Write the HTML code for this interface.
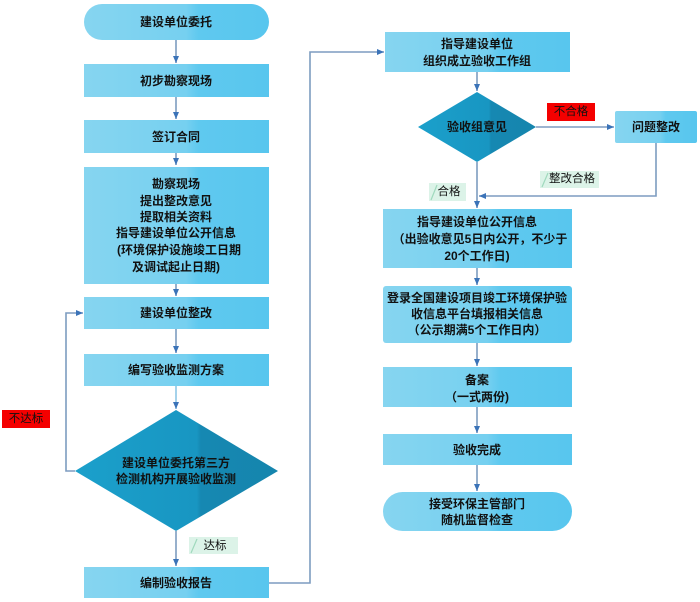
<!DOCTYPE html>
<html><head><meta charset="utf-8">
<style>
html,body{margin:0;padding:0;background:#fff;}
svg{display:block;}
text{font-family:"Liberation Sans","Noto Sans CJK SC",sans-serif;font-size:12px;font-weight:bold;fill:#111;}
.n{font-weight:normal;font-size:11.5px;}
</style></head><body>
<svg width="700" height="602" viewBox="0 0 700 602" xmlns="http://www.w3.org/2000/svg">
<defs>
<linearGradient id="bx" x1="0" y1="0" x2="1" y2="0">
<stop offset="0" stop-color="#86d5f0"/>
<stop offset="0.55" stop-color="#76d0f0"/>
<stop offset="0.62" stop-color="#5fc9ef"/>
<stop offset="1" stop-color="#58c6ee"/>
</linearGradient>
<linearGradient id="dm" x1="0" y1="0" x2="1" y2="0">
<stop offset="0" stop-color="#1ba0cb"/>
<stop offset="0.6" stop-color="#1896c2"/>
<stop offset="0.62" stop-color="#1688b2"/>
<stop offset="1" stop-color="#1585ad"/>
</linearGradient>
<marker id="ar" markerWidth="8" markerHeight="8" refX="7" refY="4" orient="auto" markerUnits="userSpaceOnUse">
<path d="M0,1 L7,4 L0,7 Z" fill="#3b73b8"/>
</marker>
</defs>

<!-- connectors left -->
<g stroke="#7d9cc0" stroke-width="1.6" fill="none" marker-end="url(#ar)">
<line x1="176" y1="40" x2="176" y2="63"/>
<line x1="176" y1="97" x2="176" y2="119"/>
<line x1="176" y1="153" x2="176" y2="165"/>
<line x1="176" y1="284" x2="176" y2="296"/>
<line x1="176" y1="329" x2="176" y2="353"/>
<line x1="176" y1="386" x2="176" y2="409" stroke="#8ec6e6"/>
<line x1="176" y1="531" x2="176" y2="566"/>
<polyline points="75,471 66,471 66,313 83,313"/>
<polyline points="269,583 310,583 310,52 384,52"/>
<!-- right -->
<line x1="477" y1="72" x2="477" y2="91"/>
<line x1="536" y1="127" x2="614" y2="127"/>
<line x1="477" y1="162" x2="477" y2="208"/>
<polyline points="656,143 656,196 479,196"/>
<line x1="477" y1="268" x2="477" y2="285"/>
<line x1="477" y1="343" x2="477" y2="366"/>
<line x1="477" y1="407" x2="477" y2="433"/>
<line x1="477" y1="465" x2="477" y2="491"/>
</g>

<!-- left boxes -->
<rect x="84" y="4" width="185" height="36" rx="18" fill="url(#bx)"/>
<rect x="84" y="64" width="185" height="33" fill="url(#bx)"/>
<rect x="84" y="120" width="185" height="33" fill="url(#bx)"/>
<rect x="84" y="167" width="185" height="117" fill="url(#bx)"/>
<rect x="84" y="297" width="185" height="32" fill="url(#bx)"/>
<rect x="84" y="354" width="185" height="32" fill="url(#bx)"/>
<polygon points="176,410 278,471 176,531 75,471" fill="url(#dm)"/>
<rect x="84" y="567" width="185" height="31" fill="url(#bx)"/>

<text x="176" y="22" text-anchor="middle" dominant-baseline="central">建设单位委托</text>
<text x="176" y="81" text-anchor="middle" dominant-baseline="central">初步勘察现场</text>
<text x="176" y="137" text-anchor="middle" dominant-baseline="central">签订合同</text>
<text x="176" y="184" text-anchor="middle" dominant-baseline="central">勘察现场</text>
<text x="176" y="201" text-anchor="middle" dominant-baseline="central">提出整改意见</text>
<text x="176" y="217" text-anchor="middle" dominant-baseline="central">提取相关资料</text>
<text x="176" y="233" text-anchor="middle" dominant-baseline="central">指导建设单位公开信息</text>
<text x="179" y="250" text-anchor="middle" dominant-baseline="central">(环境保护设施竣工日期</text>
<text x="176" y="267" text-anchor="middle" dominant-baseline="central">及调试起止日期)</text>
<text x="176" y="313" text-anchor="middle" dominant-baseline="central">建设单位整改</text>
<text x="176" y="370" text-anchor="middle" dominant-baseline="central">编写验收监测方案</text>
<text x="176" y="463" text-anchor="middle" dominant-baseline="central">建设单位委托第三方</text>
<text x="176" y="479" text-anchor="middle" dominant-baseline="central">检测机构开展验收监测</text>
<text x="176" y="583" text-anchor="middle" dominant-baseline="central">编制验收报告</text>

<!-- labels left -->
<rect x="2" y="410" width="48" height="18" fill="#f40000"/>
<text class="n" x="26" y="419" text-anchor="middle" dominant-baseline="central">不达标</text>
<rect x="189" y="537" width="49" height="17" fill="#dcf3e8"/>
<line x1="191" y1="553" x2="197" y2="539" stroke="#9fd9bd" stroke-width="1.2"/>
<text class="n" x="215" y="546" text-anchor="middle" dominant-baseline="central">达标</text>

<!-- right boxes -->
<rect x="385" y="32" width="185" height="40" fill="url(#bx)"/>
<polygon points="477,92 536,127 477,162 418,127" fill="url(#dm)"/>
<rect x="615" y="111" width="82" height="32" rx="2" fill="url(#bx)"/>
<rect x="383" y="209" width="189" height="59" fill="url(#bx)"/>
<rect x="383" y="286" width="189" height="57" rx="3" fill="url(#bx)"/>
<rect x="383" y="367" width="189" height="40" fill="url(#bx)"/>
<rect x="383" y="434" width="189" height="31" fill="url(#bx)"/>
<rect x="383" y="492" width="189" height="39" rx="19.5" fill="url(#bx)"/>

<text x="477" y="44" text-anchor="middle" dominant-baseline="central">指导建设单位</text>
<text x="477" y="61" text-anchor="middle" dominant-baseline="central">组织成立验收工作组</text>
<text x="477" y="127" text-anchor="middle" dominant-baseline="central">验收组意见</text>
<text x="656" y="127" text-anchor="middle" dominant-baseline="central">问题整改</text>
<text x="477" y="222" text-anchor="middle" dominant-baseline="central">指导建设单位公开信息</text>
<text x="480" y="239" text-anchor="middle" dominant-baseline="central">（出验收意见5日内公开，不少于</text>
<text x="477" y="256" text-anchor="middle" dominant-baseline="central">20个工作日)</text>
<text x="477" y="298" text-anchor="middle" dominant-baseline="central">登录全国建设项目竣工环境保护验</text>
<text x="477" y="314" text-anchor="middle" dominant-baseline="central">收信息平台填报相关信息</text>
<text x="477" y="330" text-anchor="middle" dominant-baseline="central">（公示期满5个工作日内）</text>
<text x="477" y="380" text-anchor="middle" dominant-baseline="central">备案</text>
<text x="477" y="397" text-anchor="middle" dominant-baseline="central">（一式两份)</text>
<text x="477" y="450" text-anchor="middle" dominant-baseline="central">验收完成</text>
<text x="477" y="504" text-anchor="middle" dominant-baseline="central">接受环保主管部门</text>
<text x="477" y="520" text-anchor="middle" dominant-baseline="central">随机监督检查</text>

<!-- right labels -->
<rect x="547" y="103" width="48" height="18" fill="#f40000"/>
<text class="n" x="571" y="112" text-anchor="middle" dominant-baseline="central">不合格</text>
<rect x="540" y="171" width="59" height="17" fill="#dcf3e8"/>
<line x1="542" y1="187" x2="548" y2="173" stroke="#9fd9bd" stroke-width="1.2"/>
<text class="n" x="572" y="179" text-anchor="middle" dominant-baseline="central">整改合格</text>
<rect x="429" y="183" width="37" height="18" fill="#dcf3e8"/>
<line x1="431" y1="200" x2="437" y2="185" stroke="#9fd9bd" stroke-width="1.2"/>
<text class="n" x="449" y="192" text-anchor="middle" dominant-baseline="central">合格</text>
</svg>
</body></html>
